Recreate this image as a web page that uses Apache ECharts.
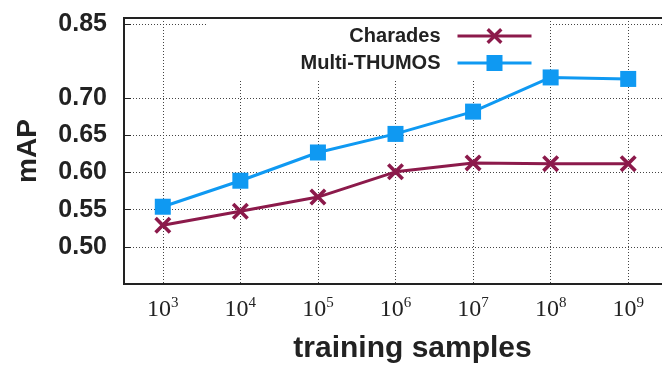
<!DOCTYPE html>
<html>
<head>
<meta charset="utf-8">
<script src="https://cdn.jsdelivr.net/npm/echarts@6/dist/echarts.min.js"></script>
<style>
  html, body { margin: 0; padding: 0; background: #fff; }
  #chart { width: 662px; height: 367px; }
</style>
</head>
<body>
<div id="chart"></div>
<script>
// x categories: powers of ten (exponent shown as superscript)
const exponents = ["3", "4", "5", "6", "7", "8", "9"];
const charades = [0.529, 0.548, 0.567, 0.601, 0.613, 0.612, 0.612];
const multiThumos = [0.554, 0.589, 0.627, 0.652, 0.682, 0.728, 0.726];

// y ticks as drawn in the figure (top gridline carries the label 0.85)
const yTickValues = [0.5, 0.55, 0.6, 0.65, 0.7, 0.8];
const yTickLabels = ["0.50", "0.55", "0.60", "0.65", "0.70", "0.85"];

const MAROON = "#8c1a4b";
const BLUE = "#0f99f2";
const crossPath = "path://M0,3 L3,0 L10,7 L17,0 L20,3 L13,10 L20,17 L17,20 L10,13 L3,20 L0,17 L7,10 Z";
const dotted = { type: [1, 2], color: "#444", width: 1 };

const myChart = echarts.init(document.getElementById("chart"));

const option = {
  animation: false,
  backgroundColor: "#fff",
  grid: {
    left: 124,
    right: -5,
    top: 18,
    bottom: 83,
    show: true,
    borderColor: "#222",
    borderWidth: 2,
    outerBoundsMode: "none",
    containLabel: false
  },
  legend: {
    data: ["Charades", "Multi-THUMOS"],
    orient: "vertical",
    align: "right",
    right: 114,
    top: 20,
    z: 4,
    itemWidth: 74,
    itemHeight: 20,
    itemGap: 7,
    padding: [6, 15, 6, 93],
    backgroundColor: "#fff",
    lineStyle: { width: 3 },
    textStyle: {
      fontFamily: "Liberation Sans",
      fontWeight: "bold",
      fontSize: 20,
      color: "#222",
      padding: [0, 12, 0, 0]
    }
  },
  xAxis: [
    {
      type: "category",
      data: exponents,
      position: "bottom",
      axisLine: { lineStyle: { color: "#222", width: 2 } },
      axisTick: { inside: true, length: 7, alignWithLabel: true, lineStyle: { color: "#222" } },
      splitLine: { show: true, alignWithLabel: true, lineStyle: dotted },
      axisLabel: {
        margin: 12,
        formatter: (v) => "{b|10}{s|" + v + "}",
        rich: {
          b: { fontFamily: "Liberation Serif", fontSize: 24, color: "#222", lineHeight: 26, verticalAlign: "bottom" },
          s: { fontFamily: "Liberation Serif", fontSize: 15, color: "#222", lineHeight: 26, verticalAlign: "top" }
        }
      },
      name: "training samples",
      nameLocation: "middle",
      nameGap: 50,
      nameTextStyle: {
        fontFamily: "Liberation Sans",
        fontWeight: "bold",
        fontSize: 30,
        color: "#222",
        padding: [0, 0, 0, 34]
      }
    },
    {
      type: "category",
      data: exponents,
      position: "top",
      z: 10,
      axisLine: { show: true, lineStyle: { color: "#222", width: 2 } },
      axisTick: { inside: true, length: 7, alignWithLabel: true, lineStyle: { color: "#222" } },
      axisLabel: { show: false },
      splitLine: { show: false }
    }
  ],
  yAxis: {
    type: "value",
    min: 0.45,
    max: 0.808,
    axisLine: { show: true, lineStyle: { color: "#222", width: 2 } },
    axisTick: { show: true, inside: true, length: 7, customValues: yTickValues, lineStyle: { color: "#222" } },
    splitLine: { show: true, lineStyle: dotted },
    axisLabel: {
      customValues: yTickValues,
      margin: 17,
      fontFamily: "Liberation Sans",
      fontWeight: "bold",
      fontSize: 25,
      color: "#222",
      formatter: (v) => {
        const i = yTickValues.findIndex((t) => Math.abs(t - v) < 1e-6);
        return i >= 0 ? yTickLabels[i] : "";
      }
    },
    name: "mAP",
    nameLocation: "middle",
    nameRotate: 90,
    nameGap: 82,
    nameTextStyle: {
      fontFamily: "Liberation Sans",
      fontWeight: "bold",
      fontSize: 28,
      color: "#222"
    }
  },
  series: [
    {
      name: "Charades",
      type: "line",
      z: 5,
      data: charades,
      symbol: crossPath,
      symbolSize: 17,
      showAllSymbol: true,
      lineStyle: { color: MAROON, width: 3 },
      itemStyle: { color: MAROON }
    },
    {
      name: "Multi-THUMOS",
      type: "line",
      z: 5,
      data: multiThumos,
      symbol: "rect",
      symbolSize: 16,
      showAllSymbol: true,
      lineStyle: { color: BLUE, width: 3 },
      itemStyle: { color: BLUE }
    }
  ]
};

myChart.setOption(option);
</script>
</body>
</html>
